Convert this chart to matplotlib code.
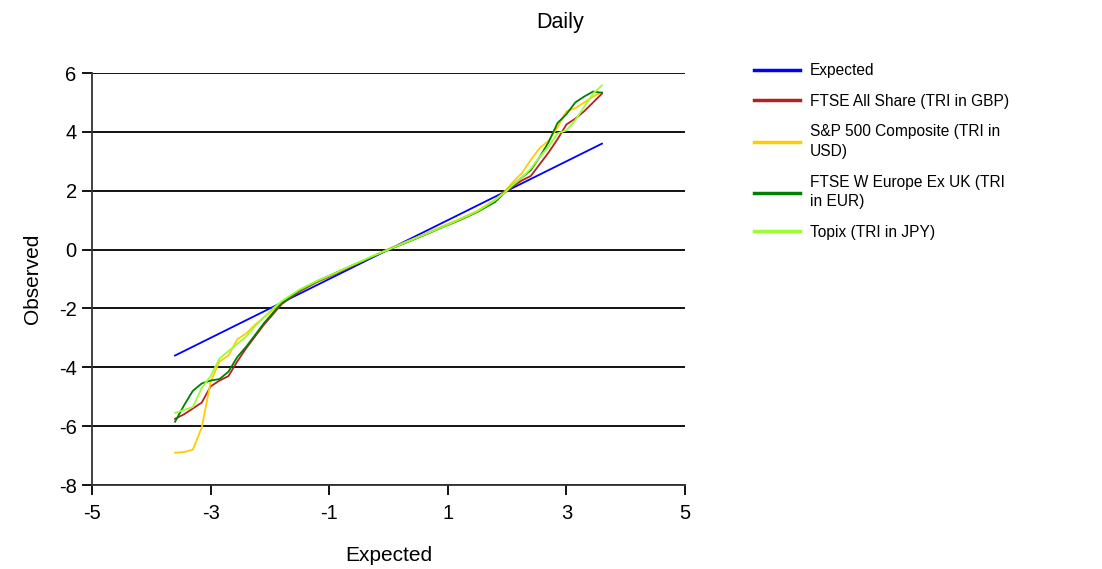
import matplotlib
matplotlib.use('Agg')
import matplotlib.pyplot as plt

plt.rcParams['font.family'] = ['Liberation Sans', 'DejaVu Sans']
plt.rcParams['axes.unicode_minus'] = False

# Expected quantiles (shared x values)
expected = [-3.6, -3.45, -3.3, -3.15, -3.0, -2.85, -2.7, -2.55, -2.4, -2.25,
            -2.1, -1.95, -1.8, -1.5, -1.2, -0.9, -0.6, -0.3, 0.0, 0.3,
            0.6, 0.9, 1.2, 1.5, 1.8, 1.95, 2.1, 2.25, 2.4, 2.55,
            2.7, 2.85, 3.0, 3.15, 3.3, 3.45, 3.6]

ftse_all = [-5.75, -5.6, -5.4, -5.2, -4.65, -4.45, -4.3, -3.8, -3.35, -2.95,
            -2.55, -2.2, -1.85, -1.42, -1.1, -0.83, -0.55, -0.27, 0.0, 0.25,
            0.5, 0.77, 1.02, 1.3, 1.68, 1.92, 2.15, 2.35, 2.5, 2.9,
            3.3, 3.75, 4.25, 4.45, 4.7, 5.0, 5.3]

sp500 = [-6.9, -6.88, -6.8, -6.05, -4.5, -3.8, -3.6, -3.05, -2.85, -2.55,
         -2.3, -2.05, -1.8, -1.38, -1.08, -0.8, -0.53, -0.26, 0.02, 0.27,
         0.52, 0.78, 1.04, 1.32, 1.7, 1.95, 2.3, 2.6, 3.05, 3.45,
         3.7, 4.15, 4.7, 4.8, 5.0, 5.2, 5.35]

ftse_weu = [-5.85, -5.3, -4.8, -4.55, -4.45, -4.4, -4.15, -3.65, -3.3, -2.9,
            -2.5, -2.15, -1.82, -1.38, -1.07, -0.8, -0.53, -0.27, 0.0, 0.24,
            0.49, 0.75, 1.0, 1.28, 1.62, 1.92, 2.2, 2.45, 2.7, 3.15,
            3.65, 4.3, 4.6, 5.0, 5.2, 5.37, 5.33]

topix = [-5.55, -5.45, -5.35, -4.7, -4.3, -3.7, -3.45, -3.2, -2.95, -2.6,
         -2.3, -2.0, -1.75, -1.36, -1.06, -0.8, -0.52, -0.25, 0.0, 0.25,
         0.5, 0.76, 1.02, 1.3, 1.68, 1.92, 2.2, 2.45, 2.75, 3.15,
         3.5, 3.95, 4.05, 4.4, 4.85, 5.3, 5.58]

labels = ['Expected', 'FTSE All Share (TRI in GBP)', 'S&P 500 Composite (TRI in\nUSD)',
          'FTSE W Europe Ex UK (TRI\nin EUR)', 'Topix (TRI in JPY)']
colors = ['#0000FF', '#B22222', '#FFCC00', '#008000', '#99FF33']
x_ticks = [-5, -3, -1, 1, 3, 5]
y_ticks = [-8, -6, -4, -2, 0, 2, 4, 6]

fig = plt.figure(figsize=(11.02, 5.69), dpi=100)
ax = fig.add_axes([0.0835, 0.1476, 0.5381, 0.7241])

series = [expected, ftse_all, sp500, ftse_weu, topix]
for ys, c, lab in zip(series, colors, labels):
    ax.plot(expected, ys, color=c, linewidth=1.3, label=lab)

ax.set_xlim(-5, 5)
ax.set_ylim(-8, 6)
ax.set_xticks(x_ticks)
ax.set_yticks(y_ticks)
ax.yaxis.grid(True, color='black', linewidth=1.3)
ax.set_axisbelow(True)
for s in ['top', 'right']:
    ax.spines[s].set_visible(False)
for s in ['left', 'bottom']:
    ax.spines[s].set_color('#333333')
    ax.spines[s].set_linewidth(1.3)
ax.tick_params(direction='out', length=7, width=1.3, colors='black', labelsize=14.5)
ax.tick_params(axis='x', pad=7)
ax.tick_params(axis='y', pad=4)

ax.set_xlabel('Expected', fontsize=15, labelpad=16)
ax.set_ylabel('Observed', fontsize=15, labelpad=12)
fig.text(0.508, 0.96, 'Daily', ha='center', va='center', fontsize=15.5)

leg = fig.legend(loc='upper left', bbox_to_anchor=(0.679, 0.9), frameon=False,
                 fontsize=11.2, handlelength=2.9, handletextpad=0.65,
                 labelspacing=1.0, borderaxespad=0)
for line in leg.get_lines():
    line.set_linewidth(2.5)
for t in leg.get_texts():
    t.set_linespacing(1.4)

fig.savefig('out.png', dpi=100)
